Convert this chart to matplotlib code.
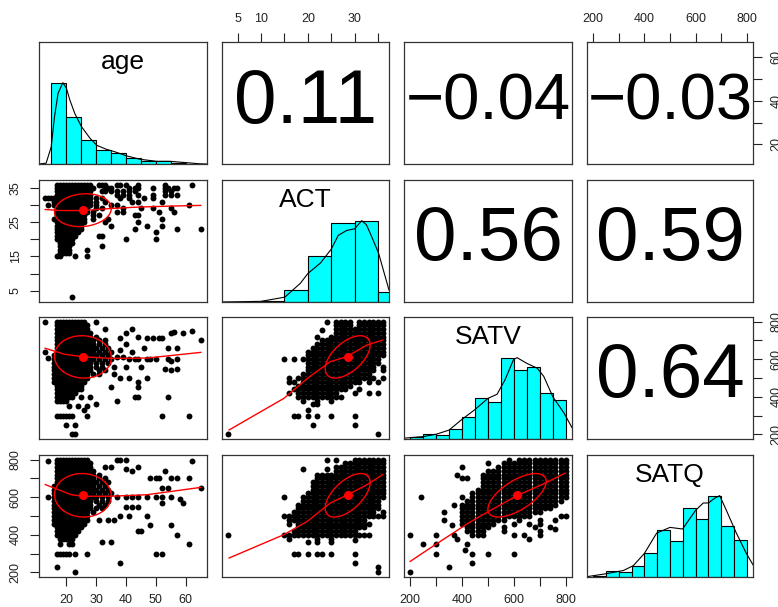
import numpy as np
import matplotlib.pyplot as plt

plt.rcParams['font.family'] = ['Liberation Sans', 'DejaVu Sans']

W, H = 778, 607
COL_PX = [(39, 207), (222, 389), (404, 572), (587, 753)]
ROW_PX = [(42, 164), (180, 302), (317, 439), (455, 577)]

VARS = ['age', 'ACT', 'SATV', 'SATQ']
DATA_RANGE = {'age': (13, 65), 'ACT': (3, 36), 'SATV': (200, 800), 'SATQ': (200, 800)}
MEANS = {'age': 25.6, 'ACT': 28.5, 'SATV': 612, 'SATQ': 610}
SDS = {'age': 9.5, 'ACT': 4.8, 'SATV': 112.6, 'SATQ': 115.6}
CORR = {('age', 'ACT'): 0.11, ('age', 'SATV'): -0.04, ('age', 'SATQ'): -0.03,
        ('ACT', 'SATV'): 0.56, ('ACT', 'SATQ'): 0.59, ('SATV', 'SATQ'): 0.64}

# histogram breaks and bar heights (scaled so the tallest bar is 1)
HIST_BREAKS = {
    'age': list(range(10, 70, 5)),
    'ACT': list(range(0, 45, 5)),
    'SATV': list(range(200, 850, 50)),
    'SATQ': list(range(200, 850, 50)),
}
HIST_HEIGHTS = {
    'age': [0.006, 1.0, 0.58, 0.30, 0.177, 0.13, 0.078, 0.033, 0.033, 0.016, 0.005],
    'ACT': [0.004, 0.004, 0.016, 0.146, 0.56, 0.97, 1.0, 0.12],
    'SATV': [0.025, 0.06, 0.053, 0.12, 0.27, 0.50, 0.45, 1.0, 0.85, 0.89, 0.56, 0.475],
    'SATQ': [0.016, 0.07, 0.057, 0.14, 0.30, 0.58, 0.44, 0.85, 0.71, 1.0, 0.63, 0.45],
}

# density curves (scaled to peak 1)
DENS_X = {
    'age': [11, 13.3, 15, 16.1, 17.3, 18.9, 20.1, 21.2, 22.9, 25.1, 27.9, 30.2, 33.5,
            36.3, 40.2, 44.7, 50.3, 54.7, 60.3, 64.8, 67],
    'ACT': [1.7, 10, 15.1, 18.4, 20, 22.7, 25, 26.5, 28.3, 30, 31.5, 32.5, 33.5, 35.1, 37.3],
    'SATV': [176, 251, 302, 350, 399, 449, 500, 535, 566, 599, 612, 650, 690, 715, 750, 793, 824],
    'SATQ': [176, 250, 318, 357, 400, 448, 500, 549, 600, 630, 650, 675, 694, 720, 759, 798, 824],
}
DENS_Y = {
    'age': [0.0, 0.01, 0.21, 0.58, 0.87, 1.0, 0.93, 0.79, 0.62, 0.46, 0.32, 0.23, 0.18,
            0.15, 0.10, 0.058, 0.033, 0.033, 0.016, 0.002, 0.0],
    'ACT': [0.0, 0.008, 0.06, 0.23, 0.35, 0.48, 0.65, 0.82, 0.88, 0.90, 1.0, 0.95, 0.82, 0.60, 0.15],
    'SATV': [0.01, 0.03, 0.06, 0.11, 0.24, 0.36, 0.50, 0.55, 0.73, 0.98, 1.0, 0.93, 0.87, 0.77,
             0.52, 0.32, 0.14],
    'SATQ': [0.004, 0.04, 0.08, 0.14, 0.29, 0.54, 0.61, 0.59, 0.82, 0.91, 0.91, 0.97, 1.0, 0.82,
             0.54, 0.29, 0.15],
}

# scatter points: runs (y, first x, last x[, step]) of observed values plus single points (x, y)
AGE_ACT_RUNS = [
    (36, 17, 28), (36, 31, 33), (35, 17, 29), (35, 33, 35), (34, 17, 28), (34, 32, 33),
    (33, 17, 28), (32, 13, 28), (31, 16, 28), (30, 16, 28), (29, 17, 27), (28, 17, 27),
    (27, 17, 26), (26, 16, 26), (25, 17, 26), (24, 17, 25), (23, 17, 25), (22, 17, 24),
    (21, 17, 23), (20, 17, 22), (19, 18, 22), (18, 18, 21), (17, 18, 21), (16, 18, 20),
]
AGE_ACT_PTS = [
    (37, 36), (38, 36), (40, 36), (44, 36), (53, 36), (62, 36),
    (41, 35), (43, 35), (44, 35), (49, 35), (53, 35), (54, 35), (56, 35), (57, 35),
    (35, 34), (37, 34), (39, 34), (41, 34), (43, 34), (53, 34), (55, 34),
    (37, 33), (39, 33), (41, 33), (44, 33), (49, 33), (53, 33), (55, 33), (57, 33),
    (30, 32), (32, 32), (38, 32), (41, 32), (46, 32), (49, 32),
    (30, 31), (33, 31), (42, 31), (44, 31), (52, 31),
    (14, 30), (30, 30), (35, 30), (37, 30), (61, 30),
    (30, 29), (32, 29), (39, 29), (45, 29), (49, 29), (55, 29),
    (29, 28), (37, 28), (39, 28), (51, 28), (56, 28),
    (29, 27), (31, 27), (43, 27), (44, 27), (29, 26), (34, 26), (52, 26),
    (33, 25), (44, 25), (35, 24), (47, 24), (52, 24), (43, 23), (57, 23), (65, 23),
    (50, 22), (31, 21), (32, 21), (40, 20), (50, 20), (32, 18), (27, 17),
    (17, 15), (18, 15), (23, 15), (27, 15), (21, 16), (22, 3),
]

AGE_SATV_RUNS = [
    (800, 17, 26), (780, 17, 27), (760, 17, 27), (740, 17, 28), (720, 17, 28), (720, 30, 30),
    (700, 17, 29), (700, 31, 33, 2), (680, 17, 29), (680, 31, 33, 2), (660, 17, 29),
    (660, 30, 34, 2), (640, 17, 29), (640, 31, 35, 2), (620, 16, 29), (620, 30, 34, 2),
    (600, 16, 29), (600, 31, 35, 2), (580, 16, 28), (580, 30, 34, 2), (560, 16, 28),
    (560, 30, 32, 2), (540, 16, 28), (540, 31, 33, 2), (520, 16, 27), (520, 29, 31, 2),
    (500, 16, 27), (480, 16, 26), (460, 17, 25), (440, 17, 25), (420, 17, 23), (400, 17, 22),
    (400, 25, 28, 3), (380, 17, 20), (300, 17, 22),
]
AGE_SATV_PTS = [
    (13, 800), (30, 800), (14, 605), (13, 640),
    (33, 760), (38, 710), (40, 740), (42, 760), (44, 720),
    (47, 710), (49, 710), (51, 710), (52, 710), (55, 740), (56, 745), (59, 740), (62, 750), (65, 700),
    (38, 650), (40, 680), (42, 640), (46, 660), (54, 660), (57, 660),
    (37, 610), (39, 610), (41, 600), (43, 600), (44, 600), (47, 600), (48, 600), (50, 600),
    (54, 600), (55, 590), (57, 600),
    (36, 560), (40, 560), (45, 560), (53, 550), (55, 545), (57, 550),
    (36, 520), (38, 500), (41, 500), (47, 500), (44, 480), (35, 450), (44, 450),
    (43, 400), (44, 400), (54, 400), (37, 380), (30, 360), (27, 350), (26, 330), (21, 350), (24, 350),
    (27, 300), (52, 300), (61, 300), (20, 250), (23, 250), (22, 200), (23, 200),
]

AGE_SATQ_RUNS = [
    (800, 17, 27), (780, 17, 28), (760, 17, 28), (740, 17, 29), (720, 17, 29), (720, 31, 31),
    (700, 17, 29), (700, 31, 33, 2), (680, 17, 29), (680, 30, 34, 2), (660, 16, 29),
    (660, 31, 33, 2), (640, 16, 29), (640, 30, 34, 2), (620, 16, 29), (620, 31, 35, 2),
    (600, 16, 29), (600, 30, 34, 2), (580, 16, 28), (580, 30, 34, 2), (560, 16, 28),
    (560, 31, 33, 2), (540, 16, 28), (540, 30, 32, 2), (520, 16, 27), (520, 29, 29),
    (500, 16, 27), (480, 16, 27), (460, 16, 26), (440, 17, 25), (420, 17, 24), (400, 17, 23),
    (380, 18, 22), (300, 17, 21),
]
AGE_SATQ_PTS = [
    (14, 790), (37, 800), (38, 800), (40, 800), (62, 790), (33, 760), (35, 760), (40, 750),
    (42, 740), (44, 760), (53, 740),
    (48, 700), (50, 700), (51, 700), (55, 700), (57, 700), (61, 700), (65, 650),
    (14, 600), (52, 650), (54, 650),
    (37, 600), (40, 600), (42, 600), (44, 600), (47, 600), (50, 600), (52, 600), (55, 600), (58, 590),
    (52, 570), (59, 570), (40, 550), (42, 550), (44, 550),
    (38, 500), (41, 500), (47, 500), (31, 480), (34, 480), (36, 480),
    (48, 450), (55, 450), (44, 420), (45, 420), (57, 400),
    (18, 350), (21, 350), (22, 350), (32, 360), (35, 360),
    (23, 300), (27, 300), (50, 300), (52, 300), (61, 350),
    (38, 250), (17, 230), (23, 200),
]

ACT_SATV_RUNS = [
    (800, 26, 29), (800, 31, 36), (780, 26, 29), (780, 31, 36), (760, 26, 36), (740, 26, 36),
    (720, 25, 36), (700, 23, 36), (680, 22, 36), (660, 21, 36), (640, 20, 36), (620, 20, 36),
    (600, 19, 35), (580, 20, 35), (560, 20, 34), (540, 20, 34), (520, 19, 33), (500, 18, 34),
    (480, 19, 31), (460, 18, 29), (440, 17, 28), (420, 18, 26), (400, 18, 27),
]
ACT_SATV_PTS = [
    (24, 800), (23, 755), (22, 720), (15, 600), (17, 600), (36, 560), (36, 540), (36, 500),
    (16, 500), (16, 480), (17, 480), (33, 480), (35, 480), (31, 440), (16, 420), (30, 420),
    (33, 420), (35, 420), (19, 380), (22, 380), (25, 380), (21, 360), (22, 360), (20, 330),
    (17, 300), (18, 300), (20, 300), (22, 300), (25, 300), (30, 300), (21, 250), (30, 250),
    (3, 200), (35, 200),
]

ACT_SATQ_RUNS = [
    (800, 30, 36), (780, 28, 36), (760, 26, 36), (740, 26, 36), (720, 22, 36), (700, 22, 36),
    (680, 21, 36), (660, 21, 36), (640, 21, 36), (620, 20, 36), (600, 19, 36), (580, 19, 35),
    (560, 18, 35), (540, 18, 35), (520, 17, 34), (500, 15, 36), (480, 16, 32), (460, 18, 33),
    (440, 18, 32), (420, 17, 30), (400, 15, 33),
]
ACT_SATQ_PTS = [
    (24, 800), (26, 800), (19, 750), (24, 750), (15, 600), (36, 520), (16, 460),
    (16, 380), (22, 380), (25, 380), (30, 370), (20, 360), (22, 360), (25, 360),
    (17, 300), (18, 300), (20, 300), (22, 300), (23, 300), (25, 300), (30, 300),
    (30, 250), (35, 230), (35, 200), (3, 400),
]

SATV_SATQ_RUNS = [
    (800, 620, 800), (780, 560, 800), (760, 540, 800), (740, 500, 800), (720, 480, 800),
    (700, 480, 800), (680, 480, 800), (660, 480, 800), (640, 460, 800), (620, 440, 800),
    (600, 440, 800), (580, 420, 780), (560, 400, 760), (540, 400, 740), (520, 400, 700),
    (500, 400, 660), (480, 400, 560), (460, 400, 520), (440, 420, 500), (420, 420, 480),
    (400, 440, 480),
]
SATV_SATQ_PTS = [
    (580, 800), (500, 780), (400, 760), (380, 720), (400, 700), (420, 700), (240, 600), (400, 600),
    (370, 560), (330, 520), (620, 480), (700, 480), (760, 480), (780, 500), (800, 500),
    (600, 460), (660, 460), (700, 460), (560, 440), (680, 440), (740, 440), (560, 420), (700, 420),
    (760, 430), (200, 400), (300, 400), (370, 400), (380, 380), (600, 400), (640, 400), (700, 400),
    (660, 380), (250, 350), (300, 350), (420, 350), (410, 320), (300, 300), (440, 300), (500, 300),
    (600, 300), (440, 250), (350, 230), (200, 200), (360, 450), (330, 480),
]

SCATTER = {
    ('age', 'ACT'): (AGE_ACT_RUNS, AGE_ACT_PTS, 1),
    ('age', 'SATV'): (AGE_SATV_RUNS, AGE_SATV_PTS, 1),
    ('age', 'SATQ'): (AGE_SATQ_RUNS, AGE_SATQ_PTS, 1),
    ('ACT', 'SATV'): (ACT_SATV_RUNS, ACT_SATV_PTS, 1),
    ('ACT', 'SATQ'): (ACT_SATQ_RUNS, ACT_SATQ_PTS, 1),
    ('SATV', 'SATQ'): (SATV_SATQ_RUNS, SATV_SATQ_PTS, 20),
}

# loess smooth through each scatter
LOESS = {
    ('age', 'ACT'): ([13, 18, 25.6, 35, 44, 55, 65], [28.7, 28.4, 28.4, 29.0, 29.4, 29.7, 29.9]),
    ('age', 'SATV'): ([13, 19.5, 25.6, 35, 47, 65], [658, 626, 613, 604, 606, 636]),
    ('age', 'SATQ'): ([13, 21.7, 25.6, 35, 47, 65], [667, 613, 605, 605, 613, 652]),
    ('ACT', 'SATV'): ([3.2, 14.9, 19.9, 24.8, 28.3, 32.6, 36], [224, 392, 498, 587, 613, 675, 702]),
    ('ACT', 'SATQ'): ([3.2, 14.9, 19.9, 24.8, 28.3, 32.6, 36], [277, 401, 472, 569, 610, 666, 720]),
    ('SATV', 'SATQ'): ([200, 297, 425, 503, 612, 721, 798], [259, 348, 463, 525, 608, 675, 728]),
}

TICKS = {
    'age': ([20, 30, 40, 50, 60], ['20', '30', '40', '50', '60']),
    'ACT': ([5, 10, 15, 20, 25, 30, 35], ['5', '10', '15', '20', '25', '30', '35']),
    'SATV': ([200, 300, 400, 500, 600, 700, 800], ['200', '', '400', '', '600', '', '800']),
    'SATQ': ([200, 300, 400, 500, 600, 700, 800], ['200', '', '400', '', '600', '', '800']),
}

TICK_COLOR = '#222222'
RED = '#ff0000'


def lim(v):
    lo, hi = DATA_RANGE[v]
    d = (hi - lo) * 0.04
    return lo - d, hi + d


def expand(runs, pts, step):
    xs, ys = [], []
    for run in runs:
        y, x0, x1 = run[:3]
        st = step * (run[3] if len(run) > 3 else 1)
        for x in np.arange(x0, x1 + st / 2, st):
            xs.append(x)
            ys.append(y)
    for x, y in pts:
        xs.append(x)
        ys.append(y)
    return np.array(xs), np.array(ys)


def ellipse(xm, ym, xs, ys, r, n=51):
    ang = np.linspace(0, 2 * np.pi, n + 1)
    circle = np.column_stack([np.cos(ang), np.sin(ang)])
    t = np.sign(r) / np.sqrt(2) if abs(r) > 0 else 1 / np.sqrt(2)
    shape = np.diag([np.sqrt(1 + r), np.sqrt(1 - r)]) @ np.array([[t, t], [-t, t]])
    e = circle @ shape
    return e[:, 0] * xs + xm, e[:, 1] * ys + ym


fig = plt.figure(figsize=(W / 100, H / 100), dpi=100)
axes = {}
for i, yv in enumerate(VARS):
    for j, xv in enumerate(VARS):
        x0, x1 = COL_PX[j]
        y0, y1 = ROW_PX[i]
        ax = fig.add_axes([x0 / W, 1 - y1 / H, (x1 - x0) / W, (y1 - y0) / H])
        axes[i, j] = ax
        ax.set_xlim(lim(xv))
        for s in ax.spines.values():
            s.set_color('#333333')
            s.set_linewidth(0.9)
        ax.set_xticks([])
        ax.set_yticks([])

        if i == j:
            ax.set_ylim(0, 1.5)
            br = HIST_BREAKS[xv]
            hts = HIST_HEIGHTS[xv]
            ax.bar(br[:-1], hts, width=np.diff(br), align='edge', color='#00ffff',
                   edgecolor='black', linewidth=0.8)
            ax.plot(DENS_X[xv], DENS_Y[xv], color='black', lw=0.8)
            ax.text(0.5, 0.84, xv, transform=ax.transAxes, ha='center', va='center',
                    fontsize=19)
        elif i > j:
            ax.set_ylim(lim(yv))
            runs, pts, step = SCATTER[xv, yv]
            px, py = expand(runs, pts, step)
            ax.scatter(px, py, s=18, color='black', linewidths=0)
            lx, ly = LOESS[xv, yv]
            ax.plot(lx, ly, color=RED, lw=1.0)
            ex, ey = ellipse(MEANS[xv], MEANS[yv], SDS[xv], SDS[yv], CORR[xv, yv])
            ax.plot(ex, ey, color=RED, lw=1.0)
            ax.plot(MEANS[xv], MEANS[yv], 'o', color=RED, ms=6.5, mec='none')
        else:
            ax.set_ylim(lim(yv))
            r = CORR[yv, xv]
            txt = f'{r:.2f}'.replace('-', '\u2212')
            # wider strings get a smaller size so they fit the cell
            ax.text(0.5, 0.5, txt, transform=ax.transAxes, ha='center', va='center',
                    fontsize=55 if r >= 0 else 47)


def style(ax):
    ax.tick_params(which='both', direction='out', length=6.5, width=0.8, color=TICK_COLOR,
                   labelcolor=TICK_COLOR, labelsize=9, pad=6)


# outer axes alternate between sides like a pairs plot
for j in (0, 2):
    ax = axes[3, j]
    t, lab = TICKS[VARS[j]]
    ax.set_xticks(t, lab)
    style(ax)
for j in (1, 3):
    ax = axes[0, j]
    t, lab = TICKS[VARS[j]]
    if VARS[j] == 'ACT':
        lab = ['5', '10', '', '20', '', '30', '']
    ax.xaxis.tick_top()
    ax.set_xticks(t, lab)
    style(ax)
for i in (1, 3):
    ax = axes[i, 0]
    t, lab = TICKS[VARS[i]]
    if VARS[i] == 'ACT':
        lab = ['5', '', '15', '', '25', '', '35']
    ax.set_yticks(t, lab)
    style(ax)
    for tl in ax.get_yticklabels():
        tl.set_rotation(90)
        tl.set_va('center')
for i in (0, 2):
    ax = axes[i, 3]
    t, lab = TICKS[VARS[i]]
    if VARS[i] == 'age':
        lab = ['20', '', '40', '', '60']
    ax.yaxis.tick_right()
    ax.set_yticks(t, lab)
    style(ax)
    for tl in ax.get_yticklabels():
        tl.set_rotation(90)
        tl.set_va('center')

fig.savefig('out.png', dpi=100)
